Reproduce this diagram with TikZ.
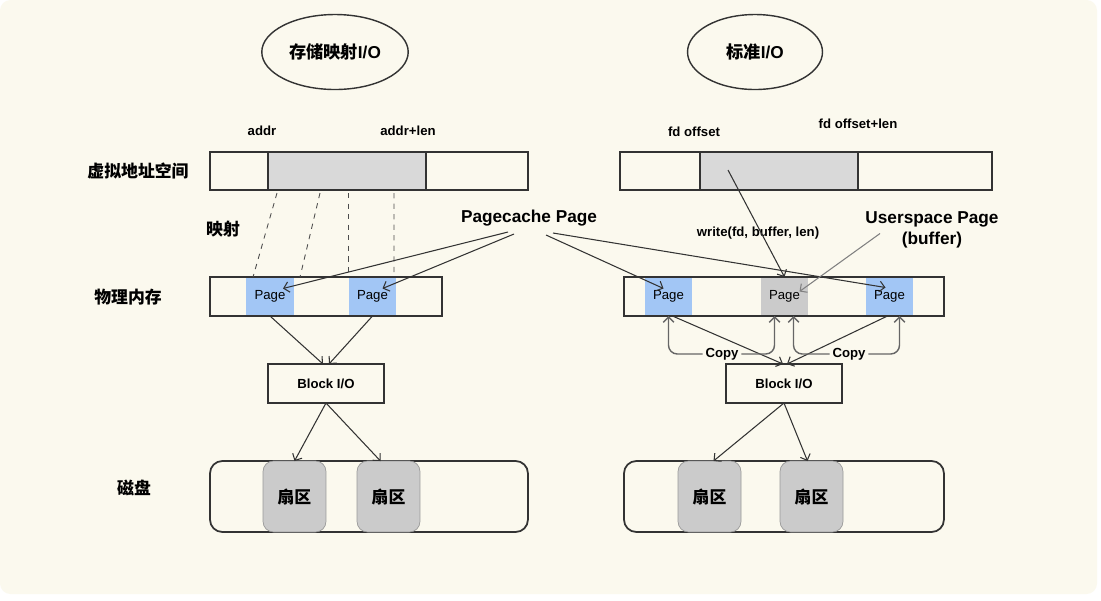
\documentclass[tikz,border=0pt]{standalone}
\usepackage{fontspec}
\setmainfont{Liberation Sans}
\newfontfamily\cjk{Noto Sans CJK SC}
\usetikzlibrary{shapes.geometric,arrows.meta}
\definecolor{bgcream}{HTML}{FBF9EE}
\definecolor{pageblue}{HTML}{A2C6F5}
\definecolor{areagray}{HTML}{D9D9D9}
\definecolor{sectgray}{HTML}{CBCBCB}
\definecolor{edge}{HTML}{333333}
\tikzset{
  box/.style={draw=edge,line width=1pt,inner sep=0pt,outer sep=0pt,anchor=north west},
  pg/.style={inner sep=0pt,outer sep=0pt,anchor=north west,minimum height=.78cm,font=\fontsize{7.5}{9}\selectfont},
  sect/.style={draw=black!40,fill=sectgray,rounded corners=6pt,inner sep=0pt,outer sep=0pt,anchor=north west,
    minimum width=1.26cm,minimum height=1.42cm,font=\fontsize{9.6}{11}\selectfont\cjk\bfseries},
  title/.style={ellipse,draw=edge,line width=.8pt,minimum width=2.7cm,minimum height=1.5cm,
    font=\fontsize{9.8}{12}\selectfont\bfseries},
  cn/.style={font=\fontsize{9.6}{11}\selectfont\cjk\bfseries},
  lbl/.style={font=\fontsize{7.5}{9}\selectfont\bfseries,inner sep=1.5pt},
  biglbl/.style={font=\fontsize{9.8}{12}\selectfont\bfseries,align=center},
  arr/.style={->,draw=edge,line width=.6pt},
  mapline/.style={draw=black!70,line width=.5pt,dashed},
  copyline/.style={->,draw=black!60,line width=.8pt,rounded corners=5pt}
}
\begin{document}
\begin{tikzpicture}[x=.02cm,y=-.02cm,>={Straight Barb[length=3pt,width=6pt]}]
  \useasboundingbox (0,0) rectangle (1101,600);
  \fill[white] (0,0) rectangle (1101,600);
  \fill[bgcream,rounded corners=6pt] (0,0) rectangle (1097,594);
  % titles and row labels
  \node[title] (mmap) at (335,52) {{\cjk 存储映射}I/O};
  \node[title] (stdio) at (755,52) {{\cjk 标准}I/O};
  \node[cn] (rvirt) at (138,171) {虚拟地址空间};
  \node[cn] (rmap) at (223,229) {映射};
  \node[cn] (rmem) at (128,297) {物理内存};
  \node[cn] (rdisk) at (134,488) {磁盘};
  \node[lbl] (addr) at (262,131) {addr};
  \node[lbl] (addrlen) at (408,131) {addr+len};
  \node[lbl] (fdoff) at (694,132) {fd offset};
  \node[lbl] (fdofflen) at (858,124) {fd offset+len};

  % virtual address space
  \node[box,fill=bgcream,minimum width=6.36cm,minimum height=.76cm] (lvb) at (210,152) {};
  \node[box,fill=areagray,minimum width=3.16cm,minimum height=.76cm] (lva) at (268,152) {};
  \node[box,fill=bgcream,minimum width=7.44cm,minimum height=.76cm] (rvb) at (620,152) {};
  \node[box,fill=areagray,minimum width=3.16cm,minimum height=.76cm] (rva) at (700,152) {};

  % physical memory
  \node[box,fill=bgcream,minimum width=4.64cm,minimum height=.78cm] (lmem) at (210,277) {};
  \node[pg,fill=pageblue,minimum width=.96cm] (lp1) at (246,277) {Page};
  \node[pg,fill=pageblue,minimum width=.94cm] (lp2) at (349,277) {Page};
  \draw[edge,line width=1pt] (lmem.north west) rectangle (lmem.south east);
  \node[box,fill=bgcream,minimum width=6.4cm,minimum height=.78cm] (rmemb) at (624,277) {};
  \node[pg,fill=pageblue,minimum width=.94cm] (rp1) at (645,277) {Page};
  \node[pg,fill=sectgray,minimum width=.94cm] (rpg) at (761,277) {Page};
  \node[pg,fill=pageblue,minimum width=.94cm] (rp3) at (866,277) {Page};
  \draw[edge,line width=1pt] (rmemb.north west) rectangle (rmemb.south east);

  % block layer
  \node[box,fill=bgcream,minimum width=2.32cm,minimum height=.78cm,font=\fontsize{7.5}{9}\selectfont\bfseries] (lblk) at (268,364) {Block I/O};
  \node[box,fill=bgcream,minimum width=2.32cm,minimum height=.78cm,font=\fontsize{7.5}{9}\selectfont\bfseries] (rblk) at (726,364) {Block I/O};

  % disks
  \node[box,rounded corners=7pt,minimum width=6.36cm,minimum height=1.42cm] (ldisk) at (210,461) {};
  \node[sect] (ls1) at (263,461) {扇区};
  \node[sect] (ls2) at (357,461) {扇区};
  \node[box,rounded corners=7pt,minimum width=6.4cm,minimum height=1.42cm] (rdiskb) at (624,461) {};
  \node[sect] (rs1) at (678,461) {扇区};
  \node[sect] (rs2) at (780,461) {扇区};

  % mapping lines
  \draw[mapline] ([shift={(9,3)}]lva.south west) -- ([shift={(7,0)}]lp1.north west);
  \draw[mapline] ([shift={(52,3)}]lva.south west) -- ([shift={(6,0)}]lp1.north east);
  \draw[mapline] ([shift={(80,3)}]lva.south west) -- ([shift={(-1,0)}]lp2.north west);
  \draw[mapline] ([shift={(126,3)}]lva.south west) -- ([shift={(-2,0)}]lp2.north east);

  % page cache labels
  \node[biglbl] (pcache) at (529,218) {Pagecache Page};
  \node[biglbl] (user) at (932,229.5) {Userspace Page\\(buffer)};
  \node[lbl] (write) at (758,233) {write(fd, buffer, len)};
  \draw[arr] ([shift={(-21,14)}]pcache.center) -- ([shift={(13,-8)}]lp1.center);
  \draw[arr] ([shift={(-15,16)}]pcache.center) -- ([shift={(10,-8)}]lp2.center);
  \draw[arr] ([shift={(17,17)}]pcache.center) -- ([shift={(-5,-8)}]rp1.center);
  \draw[arr] ([shift={(24,15)}]pcache.center) -- ([shift={(-4,-9)}]rp3.center);
  \draw[arr] ([shift={(28,18)}]rva.north west) -- (rpg.north);
  \draw[->,draw=black!50,line width=.6pt] ([shift={(-52,4)}]user.center) -- ([shift={(15,-5)}]rpg.center);

  % to block I/O
  \draw[arr] (lp1.south) -- ([shift={(-3,0)}]lblk.north);
  \draw[arr] (lp2.south) -- ([shift={(3,0)}]lblk.north);
  \draw[arr] ([shift={(4,0)}]rp1.south) -- ([shift={(-1,0)}]rblk.north);
  \draw[arr] ([shift={(-2,0)}]rp3.south) -- ([shift={(3,0)}]rblk.north);

  % copies
  \node[lbl] (cpl) at (722,354) {Copy};
  \node[lbl] (cpr) at (849,354) {Copy};
  \draw[copyline] (cpl.west) -| (rp1.south);
  \draw[copyline] (cpl.east) -| ([shift={(-10,0)}]rpg.south);
  \draw[copyline] (cpr.west) -| ([shift={(9,0)}]rpg.south);
  \draw[copyline] (cpr.east) -| ([shift={(10,0)}]rp3.south);

  % to sectors
  \draw[arr] (lblk.south) -- (ls1.north);
  \draw[arr] (lblk.south) -- ([shift={(-8,0)}]ls2.north);
  \draw[arr] (rblk.south) -- ([shift={(4,0)}]rs1.north);
  \draw[arr] (rblk.south) -- ([shift={(-4,0)}]rs2.north);
\end{tikzpicture}
\end{document}
